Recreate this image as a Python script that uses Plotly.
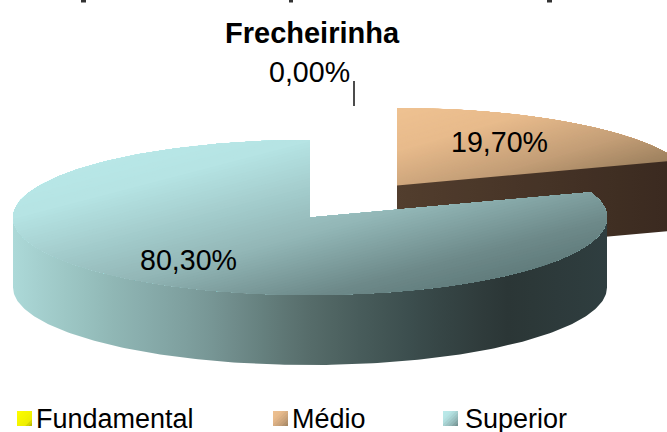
import numpy as np
import plotly.graph_objects as go

# ---- data ----
categories = ["Fundamental", "Médio", "Superior"]
values = [0.00, 19.70, 80.30]
labels = ["0,00%", "19,70%", "80,30%"]
title_text = "Frecheirinha"

# ---- style ----
W, H = 667, 432
RX, RY, DEPTH = 297, 77.5, 70
FONT = "Liberation Sans"
top_stops = {
    "Superior": [(0.0, "#bcecec"), (0.25, "#b6e4e4"), (0.55, "#93b7b7"), (0.75, "#6f8b8b"), (1.0, "#4e6868")],
    "Médio": [(0.0, "#efc292"), (0.25, "#e8bb8c"), (0.55, "#c39e77"), (0.75, "#a08360"), (1.0, "#7a6148")],
    "Fundamental": [(0.0, "#ffff00"), (0.55, "#efef00"), (1.0, "#5c5c00")],
}
wall_super = [(0.0, "#acd9d8"), (0.15, "#93bbb9"), (0.32, "#7a9a99"), (0.5, "#566c6a"),
              (0.66, "#3d4f4f"), (0.83, "#2b3636"), (1.0, "#2f3e40")]
wall_medio = [(0.0, "#523e2e"), (1.0, "#3a2a20")]
legend_x = [17, 273, 443]
legend_text_x = [34, 290, 463]
clipped_line_marks = [(81, 86), (289, 293), (547, 552)]

fig = go.Figure()


def hex_rgb(c):
    return np.array([int(c[i:i + 2], 16) for i in (1, 3, 5)], float)


def ramp(stops, t):
    ts = [s[0] for s in stops]
    cs = np.array([hex_rgb(s[1]) for s in stops])
    rgb = [np.interp(t, ts, cs[:, i]) for i in range(3)]
    return "rgb(%d,%d,%d)" % tuple(rgb)


def clip_half(poly, g, level):
    out = []
    n = len(poly)
    for i in range(n):
        a, b = poly[i], poly[(i + 1) % n]
        ga, gb = g(a) - level, g(b) - level
        if ga >= 0:
            out.append(a)
        if ga * gb < 0:
            s = ga / (ga - gb)
            out.append((a[0] + s * (b[0] - a[0]), a[1] + s * (b[1] - a[1])))
    return out


def add_poly(poly, color):
    xs = [p[0] for p in poly] + [poly[0][0]]
    ys = [p[1] for p in poly] + [poly[0][1]]
    fig.add_trace(go.Scatter(x=xs, y=ys, mode="lines", fill="toself", fillcolor=color,
                             line=dict(width=0, color=color), hoverinfo="skip", showlegend=False))


def diagonal_fill(poly, stops, box, steps=110):
    x0, y0, w, h = box
    g = lambda p: ((p[0] - x0) / w + (p[1] - y0) / h) / 2
    for k in range(steps):
        t = k / steps
        part = clip_half(poly, g, t) if k else poly
        if len(part) >= 3:
            add_poly(part, ramp(stops, t + 0.5 / steps))


def wall_fill(poly, stops, xa, xb):
    xs = [p[0] for p in poly] + [poly[0][0]]
    ys = [p[1] for p in poly] + [poly[0][1]]
    lo, hi = min(xs), max(xs)
    scale = []
    for u in np.linspace(0, 1, 25):
        scale.append([float(u), ramp(stops, (lo + u * (hi - lo) - xa) / (xb - xa))])
    fig.add_trace(go.Scatter(x=xs, y=ys, mode="lines", fill="toself",
                             fillgradient=dict(type="horizontal", colorscale=scale),
                             line=dict(width=0), hoverinfo="skip", showlegend=False))


def rim(cx, cy, a0, a1, n=160):
    th = np.radians(np.linspace(a0, a1, n))
    return [(cx + RX * np.sin(t), cy - RY * np.cos(t)) for t in th]


# slices run clockwise from 12 o'clock
total = sum(values)
ang_medio = 360 * values[1] / total

# Médio slice, pulled out to the upper right
mx, my = 397, 185.5
medio_rim = rim(mx, my, 0, ang_medio, 80)
diagonal_fill([(mx, my)] + medio_rim, top_stops["Médio"], (mx, my - RY, RX, 2 * RY * 0.55))
ex, ey = medio_rim[-1]
wall_fill([(mx, my), (ex, ey), (ex, ey + DEPTH), (mx, my + DEPTH)], wall_medio, mx, ex)

# Superior slice
sx, sy = 310, 217.5
front = rim(sx, sy, 90, 270, 200)
wall_fill(front + [(p[0], p[1] + DEPTH) for p in reversed(front)], wall_super, sx - RX, sx + RX)
super_rim = rim(sx, sy, ang_medio, 360, 240)
diagonal_fill([(sx, sy)] + super_rim, top_stops["Superior"], (sx - RX, sy - RY, 2 * RX, 2 * RY))

# 0,00% leader line
fig.add_trace(go.Scatter(x=[354, 354], y=[81, 106], mode="lines", line=dict(color="#111111", width=1.5),
                         hoverinfo="skip", showlegend=False))

# ink of the title line that is cropped off at the top edge
for a, b in clipped_line_marks:
    fig.add_trace(go.Scatter(x=[a, b], y=[1, 1], mode="lines", line=dict(color="#333333", width=3),
                             hoverinfo="skip", showlegend=False))

# Legend swatches
for lx, cat in zip(legend_x, categories):
    sq = [(lx, 411), (lx + 15, 411), (lx + 15, 426), (lx, 426)]
    diagonal_fill(sq, top_stops[cat], (lx, 411, 20, 20), steps=12)

text_items = [
    (312, 33, "<b>%s</b>" % title_text, 29),
    (309, 72, labels[0], 28.6),
    (499, 142, labels[1], 28.6),
    (188, 260, labels[2], 28.6),
]
annotations = [dict(x=x, y=y, xref="x", yref="y", text=t, showarrow=False,
                    xanchor="center", yanchor="middle",
                    font=dict(family=FONT, size=s, color="#000000")) for x, y, t, s in text_items]
for tx, cat in zip(legend_text_x, categories):
    annotations.append(dict(x=tx, y=419, xref="x", yref="y", text=cat, showarrow=False,
                            xanchor="left", yanchor="middle",
                            font=dict(family=FONT, size=27, color="#000000")))

fig.update_layout(
    width=W, height=H, margin=dict(l=0, r=0, t=0, b=0),
    paper_bgcolor="white", plot_bgcolor="white", showlegend=False,
    xaxis=dict(range=[0, W], visible=False, fixedrange=True),
    yaxis=dict(range=[H, 0], visible=False, fixedrange=True),
    annotations=annotations,
)
fig.write_html("out.html", config=dict(displayModeBar=False),
               post_script="document.body.style.margin='0';document.body.style.overflow='hidden';")
